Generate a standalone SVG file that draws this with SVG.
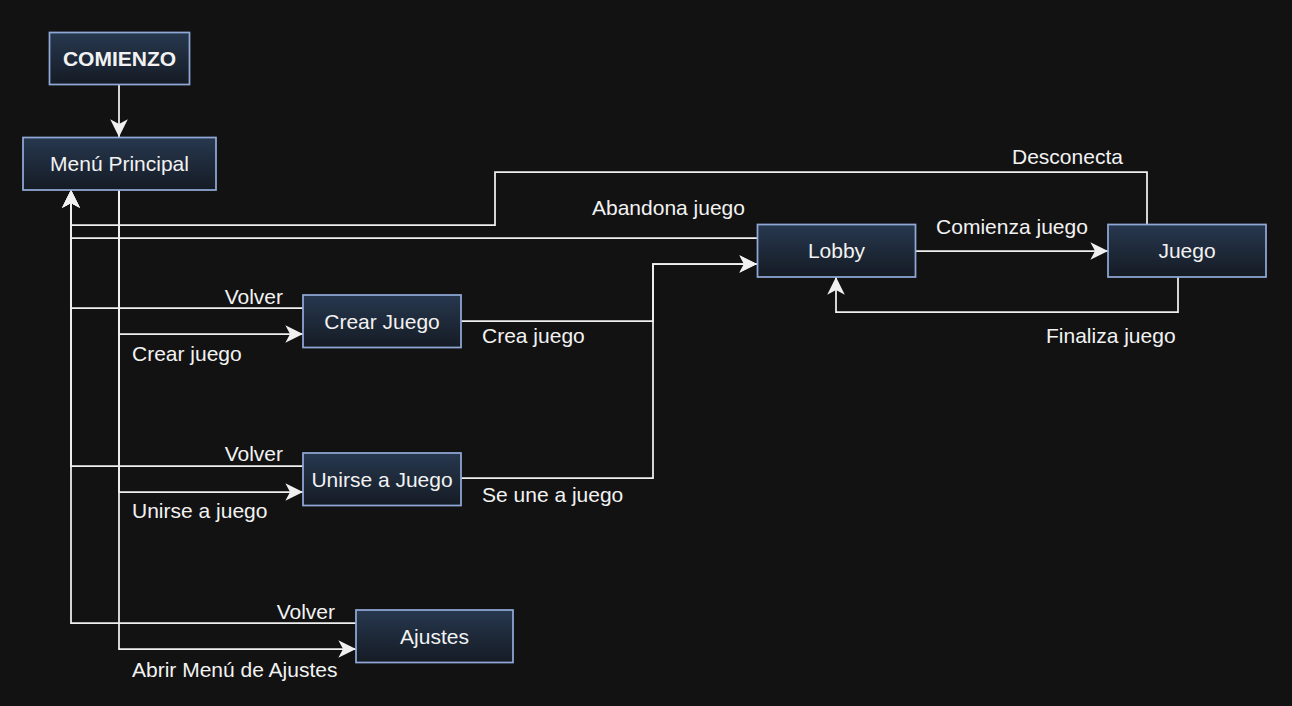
<svg xmlns="http://www.w3.org/2000/svg" width="1292" height="706" viewBox="0 0 1292 706">
<style>
.node rect{stroke:#8fa8d6;stroke-width:1.75;fill:url(#g)}
.node text{font-family:"Liberation Sans",Arial,sans-serif;font-size:21px;fill:#f2f2f2;text-anchor:middle}
.edges path{fill:none;stroke:#f0f0f0;stroke-width:1.75}
.lbl{font-family:"Liberation Sans",Arial,sans-serif;font-size:21px;fill:#f2f2f2}
</style>
<defs>
<linearGradient id="g" x1="0" y1="0" x2="0" y2="1">
<stop offset="0" stop-color="#27384f"/>
<stop offset="1" stop-color="#151b24"/>
</linearGradient>
<marker id="a" markerUnits="userSpaceOnUse" markerWidth="20" markerHeight="20" viewBox="-16 -8 17 16" refX="0" refY="0" orient="auto">
<path d="M0,0 L-15,-7.5 L-11,0 L-15,7.5 Z" fill="#f0f0f0"/>
</marker>
</defs>
<rect width="1292" height="706" fill="#121212"/>
<g class="edges">
<path d="M119,85 V137" marker-end="url(#a)"/>
<path d="M119,190 V334 H303" marker-end="url(#a)"/>
<path d="M119,190 V492 H303" marker-end="url(#a)"/>
<path d="M119,190 V649 H356" marker-end="url(#a)"/>
<path d="M303,308 H71 V190" marker-end="url(#a)"/>
<path d="M303,466 H71 V190" marker-end="url(#a)"/>
<path d="M356,623 H71 V190" marker-end="url(#a)"/>
<path d="M461,321 H653 V264 H757" marker-end="url(#a)"/>
<path d="M461,478 H653 V264 H757" marker-end="url(#a)"/>
<path d="M916,251 H1108" marker-end="url(#a)"/>
<path d="M1178,277 V312 H836 V277" marker-end="url(#a)"/>
<path d="M1147,224 V172 H495 V225 H71 V190" marker-end="url(#a)"/>
<path d="M757,238 H71 V190" marker-end="url(#a)"/>
</g>
<g class="labels">
<text class="lbl" x="283" y="304" text-anchor="end">Volver</text>
<text class="lbl" x="132" y="361">Crear juego</text>
<text class="lbl" x="283" y="461" text-anchor="end">Volver</text>
<text class="lbl" x="132" y="518">Unirse a juego</text>
<text class="lbl" x="335" y="619" text-anchor="end">Volver</text>
<text class="lbl" x="132" y="677">Abrir Menú de Ajustes</text>
<text class="lbl" x="482" y="343">Crea juego</text>
<text class="lbl" x="482" y="502">Se une a juego</text>
<text class="lbl" x="592" y="215">Abandona juego</text>
<text class="lbl" x="1012" y="164">Desconecta</text>
<text class="lbl" x="1012" y="234" text-anchor="middle">Comienza juego</text>
<text class="lbl" x="1046" y="343">Finaliza juego</text>
</g>
<g id="comienzo" class="node"><rect x="49.5" y="32.5" width="140" height="52"/><text x="119.5" y="66" font-weight="bold">COMIENZO</text></g>
<g id="menu" class="node"><rect x="23" y="137.5" width="193" height="52.5"/><text x="119.5" y="171">Menú Principal</text></g>
<g id="crear" class="node"><rect x="303" y="295" width="158" height="52.5"/><text x="382" y="329">Crear Juego</text></g>
<g id="unirse" class="node"><rect x="303" y="453" width="158" height="52.5"/><text x="382" y="487">Unirse a Juego</text></g>
<g id="ajustes" class="node"><rect x="356" y="610" width="157" height="52.5"/><text x="434.5" y="644">Ajustes</text></g>
<g id="lobby" class="node"><rect x="757.5" y="224.5" width="158" height="52.5"/><text x="836.5" y="258">Lobby</text></g>
<g id="juego" class="node"><rect x="1108" y="224.5" width="158" height="52.5"/><text x="1187" y="258">Juego</text></g>
</svg>
